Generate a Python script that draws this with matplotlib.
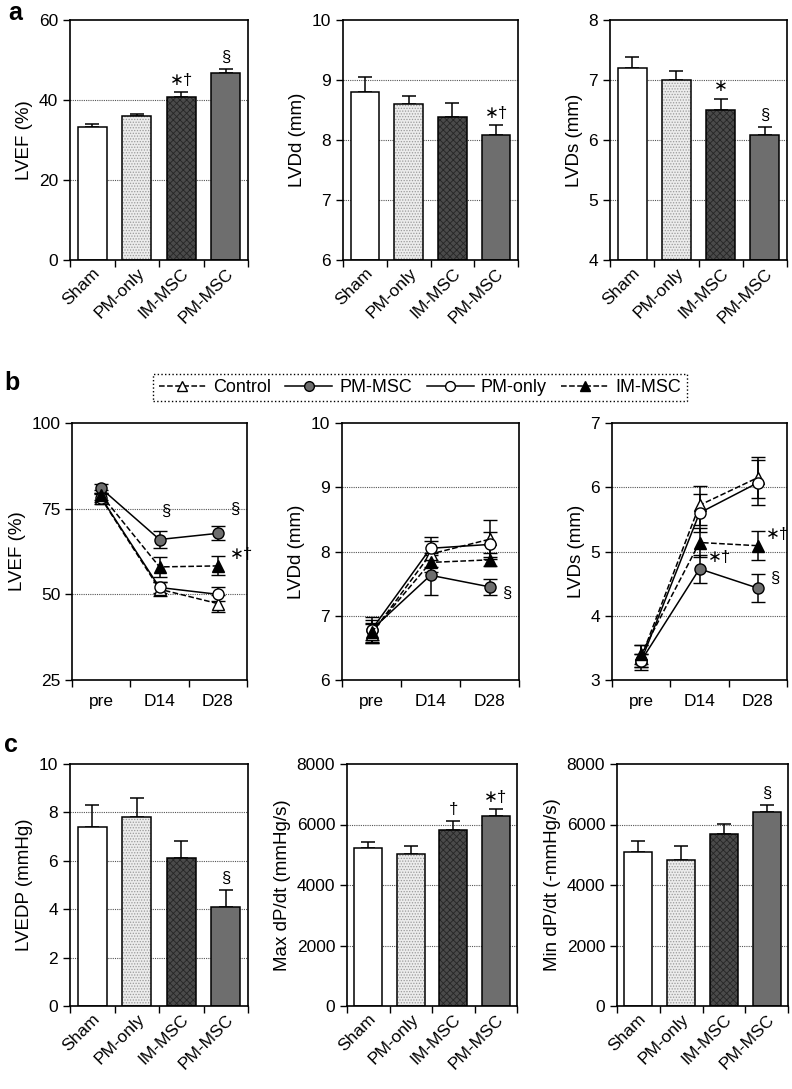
import numpy as np
import matplotlib
matplotlib.use('Agg')
import matplotlib.pyplot as plt
from matplotlib.lines import Line2D

plt.rcParams['font.family'] = ['Liberation Sans', 'DejaVu Sans']
plt.rcParams['font.size'] = 12
plt.rcParams['hatch.linewidth'] = 0.6

groups = ['Sham', 'PM-only', 'IM-MSC', 'PM-MSC']

# panel a
lvef_a = [33.2, 35.9, 40.8, 46.7]
lvef_a_err = [0.8, 0.6, 1.1, 1.1]
lvdd_a = [8.80, 8.60, 8.38, 8.09]
lvdd_a_err = [0.25, 0.14, 0.24, 0.16]
lvds_a = [7.20, 7.00, 6.50, 6.09]
lvds_a_err = [0.18, 0.15, 0.19, 0.12]

# panel c
lvedp = [7.4, 7.8, 6.1, 4.1]
lvedp_err = [0.9, 0.8, 0.7, 0.7]
maxdp = [5210, 5040, 5820, 6280]
maxdp_err = [220, 250, 280, 230]
mindp = [5090, 4840, 5690, 6410]
mindp_err = [360, 440, 340, 220]

# panel b
timepoints = ['pre', 'D14', 'D28']
series = ['Control', 'PM-MSC', 'PM-only', 'IM-MSC']
lvef_b = {'Control': [78.0, 51.5, 47.3], 'PM-MSC': [80.9, 66.0, 67.8],
          'PM-only': [78.2, 52.0, 50.0], 'IM-MSC': [79.0, 58.0, 58.3]}
lvef_b_err = {'Control': [1.5, 2.0, 2.5], 'PM-MSC': [1.2, 2.5, 2.0],
              'PM-only': [1.2, 1.6, 2.0], 'IM-MSC': [1.5, 2.8, 2.8]}
lvdd_b = {'Control': [6.72, 7.96, 8.19], 'PM-MSC': [6.78, 7.63, 7.45],
          'PM-only': [6.78, 8.05, 8.11], 'IM-MSC': [6.74, 7.83, 7.87]}
lvdd_b_err = {'Control': [0.15, 0.20, 0.30], 'PM-MSC': [0.15, 0.31, 0.12],
              'PM-only': [0.20, 0.18, 0.20], 'IM-MSC': [0.15, 0.15, 0.10]}
lvds_b = {'Control': [3.35, 5.72, 6.15], 'PM-MSC': [3.30, 4.73, 4.43],
          'PM-only': [3.30, 5.60, 6.07], 'IM-MSC': [3.40, 5.14, 5.09]}
lvds_b_err = {'Control': [0.20, 0.30, 0.32], 'PM-MSC': [0.10, 0.22, 0.22],
              'PM-only': [0.10, 0.30, 0.35], 'IM-MSC': [0.15, 0.22, 0.23]}

W, H = 792, 1089
fig = plt.figure(figsize=(W / 100, H / 100), dpi=100)


def rect(l, r, t, b):
    return [l / W, 1 - b / H, (r - l) / W, (b - t) / H]


fills = ['white', '#ececec', '#4a4a4a', '#6e6e6e']
hatches = ['', '......', 'xxxxx', '']
hcols = ['black', '#9a9a9a', '#262626', 'black']
STAR = '\u2217'
DAG = '\u2020'
SECT = '\u00a7'


def style_axes(ax, yticks, n):
    ax.set_xlim(0, n)
    ax.set_ylim(yticks[0], yticks[-1])
    ax.set_yticks(yticks)
    ax.set_xticks(np.arange(n + 1))
    ax.set_xticklabels([])
    ax.tick_params(axis='both', which='major', direction='out', length=5, width=1,
                   labelsize=12.5)
    ax.tick_params(axis='x', which='minor', length=0)
    for y in yticks[1:-1]:
        ax.axhline(y, color='#555555', lw=0.8, ls=(0, (1, 1)), zorder=0)
    for s in ax.spines.values():
        s.set_linewidth(1.2)


def bar_panel(rc, vals, errs, yticks, ylabel, marks):
    ax = fig.add_axes(rect(*rc))
    x = np.arange(4) + 0.5
    style_axes(ax, yticks, 4)
    base = yticks[0]
    h = [v - base for v in vals]
    for i in range(4):
        ax.bar(x[i], h[i], 0.65, bottom=base, color=fills[i], edgecolor=hcols[i],
               hatch=hatches[i], linewidth=0, zorder=2)
    ax.bar(x, h, 0.65, bottom=base, fill=False, edgecolor='black', linewidth=1.1, zorder=3)
    ax.errorbar(x, vals, yerr=[[0] * 4, errs], fmt='none', ecolor='black',
                elinewidth=1.1, capsize=5, capthick=1.1, zorder=1)
    ax.set_xticks(x, minor=True)
    ax.set_xticklabels(groups, minor=True, rotation=45, ha='right',
                       rotation_mode='anchor', fontsize=12.5)
    ax.tick_params(axis='x', which='minor', pad=4)
    ax.set_ylabel(ylabel, fontsize=13.5)
    for i, m in marks.items():
        ax.annotate(m, (x[i], vals[i] + errs[i]), xytext=(0, 3),
                    textcoords='offset points', ha='center', va='bottom', fontsize=12)
    return ax


bar_panel((70, 248, 20, 260), lvef_a, lvef_a_err, [0, 20, 40, 60], 'LVEF (%)',
          {2: STAR + DAG, 3: SECT})
bar_panel((343, 518, 20, 260), lvdd_a, lvdd_a_err, [6, 7, 8, 9, 10], 'LVDd (mm)',
          {3: STAR + DAG})
bar_panel((610, 787, 20, 260), lvds_a, lvds_a_err, [4, 5, 6, 7, 8], 'LVDs (mm)',
          {2: STAR, 3: SECT})

bar_panel((70, 248, 764, 1006), lvedp, lvedp_err, [0, 2, 4, 6, 8, 10], 'LVEDP (mmHg)',
          {3: SECT})
bar_panel((347, 517, 764, 1006), maxdp, maxdp_err, [0, 2000, 4000, 6000, 8000],
          'Max dP/dt (mmHg/s)', {2: DAG, 3: STAR + DAG})
bar_panel((617, 788, 764, 1006), mindp, mindp_err, [0, 2000, 4000, 6000, 8000],
          'Min dP/dt (-mmHg/s)', {3: SECT})

styles = {
    'Control': dict(ls='--', marker='^', mfc='white'),
    'PM-MSC': dict(ls='-', marker='o', mfc='#6e6e6e'),
    'PM-only': dict(ls='-', marker='o', mfc='white'),
    'IM-MSC': dict(ls='--', marker='^', mfc='black'),
}


def line_panel(rc, data, errs, yticks, ylabel, marks):
    ax = fig.add_axes(rect(*rc))
    style_axes(ax, yticks, 3)
    x = np.arange(3) + 0.5
    for s in series:
        st = styles[s]
        ax.errorbar(x, data[s], yerr=errs[s], color='black', ls=st['ls'], lw=1.1,
                    marker=st['marker'], mfc=st['mfc'], mec='black', mew=1, ms=8,
                    capsize=5, capthick=1.1, elinewidth=1.1, zorder=3)
    ax.set_xticks(x, minor=True)
    ax.set_xticklabels(timepoints, minor=True, fontsize=12.5)
    ax.tick_params(axis='x', which='minor', pad=10)
    ax.set_ylabel(ylabel, fontsize=13.5)
    for (s, i, dx, dy, m) in marks:
        ax.annotate(m, (x[i], data[s][i]), xytext=(dx, dy),
                    textcoords='offset points', ha='left', va='center', fontsize=12)
    return ax


line_panel((72, 247, 423, 680), lvef_b, lvef_b_err, [25, 50, 75, 100], 'LVEF (%)',
           [('PM-MSC', 1, 1, 20, SECT), ('PM-MSC', 2, 9, 17, SECT),
            ('IM-MSC', 2, 9, 8, STAR + DAG)])
line_panel((342, 519, 423, 680), lvdd_b, lvdd_b_err, [6, 7, 8, 9, 10], 'LVDd (mm)',
           [('PM-MSC', 2, 9, -5, SECT)])
line_panel((612, 787, 423, 680), lvds_b, lvds_b_err, [3, 4, 5, 6, 7], 'LVDs (mm)',
           [('PM-MSC', 1, 6, 8, STAR + DAG), ('IM-MSC', 2, 6, 8, STAR + DAG),
            ('PM-MSC', 2, 9, 7, SECT)])

handles = [Line2D([], [], color='black', lw=1.1, mec='black', ms=7, **styles[s]) for s in series]
leg = fig.legend(handles, series, loc='center', bbox_to_anchor=(420 / W, 1 - 387.5 / H),
                 ncol=4, fontsize=13, handlelength=2.6, columnspacing=0.8,
                 handletextpad=0.4, fancybox=False, edgecolor='black',
                 borderpad=0.3, framealpha=1)
leg.get_frame().set_linestyle(':')
leg.get_frame().set_linewidth(1)

fig.text(8 / W, 1 - 13 / H, 'a', fontsize=18, fontweight='bold', ha='left', va='center')
fig.text(4 / W, 1 - 383 / H, 'b', fontsize=18, fontweight='bold', ha='left', va='center')
fig.text(4 / W, 1 - 745 / H, 'c', fontsize=18, fontweight='bold', ha='left', va='center')

fig.savefig('out.png', dpi=100)
